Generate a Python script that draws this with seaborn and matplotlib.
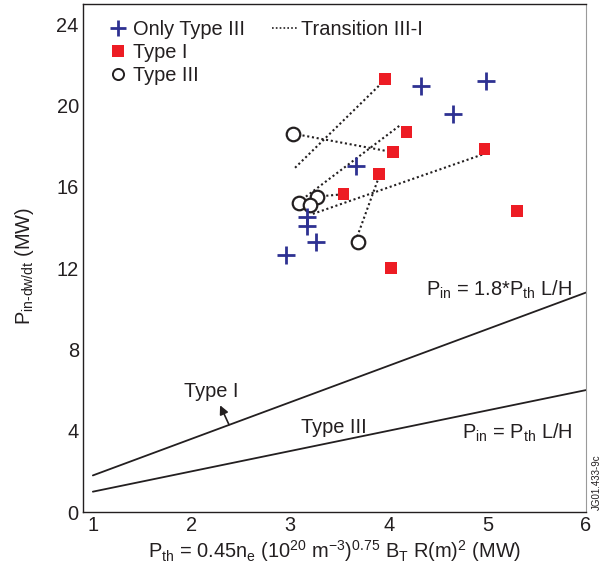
import matplotlib
matplotlib.use("Agg")
import matplotlib.pyplot as plt
from matplotlib.lines import Line2D
import seaborn as sns
import pandas as pd
import numpy as np

# ---- data ----
only3_x = [4.33, 4.99, 4.65, 3.67, 3.17, 3.17, 3.26, 2.96]
only3_y = [20.95, 21.2, 19.59, 17.04, 14.53, 14.09, 13.3, 12.64]

type1_x = [3.96, 4.18, 4.04, 4.97, 3.90, 3.54, 5.30, 4.02]
type1_y = [21.32, 18.7, 17.71, 17.86, 16.63, 15.64, 14.8, 12.0]

type3_x = [3.03, 3.27, 3.09, 3.20, 3.69]
type3_y = [18.62, 15.52, 15.2, 15.11, 13.27]

trans_x0 = [3.05, 3.03, 3.16, 3.23, 3.27, 3.68]
trans_y0 = [16.94, 18.62, 15.52, 14.67, 15.52, 13.55]
trans_x1 = [3.92, 4.04, 4.12, 4.96, 3.54, 3.89]
trans_y1 = [21.07, 17.71, 19.05, 17.61, 15.64, 16.35]

ref_x = [1, 6]
ref_factors = [1.8, 1.0]

# ---- style ----
sns.set_theme(style="white")
plt.rcParams['font.family'] = ['Liberation Sans', 'DejaVu Sans']
plt.rcParams['mathtext.fontset'] = 'custom'
plt.rcParams['mathtext.rm'] = 'Liberation Sans'
plt.rcParams['mathtext.it'] = 'Liberation Sans'
plt.rcParams['mathtext.bf'] = 'Liberation Sans'

FS = 14.4
TXT = '#231F20'
BLUE = '#2E3192'
RED = '#ED1C24'
DOT = (0, (1, 1.3))

fig = plt.figure(figsize=(6.08, 5.68), dpi=100)
ax = fig.add_axes([83/608, 1 - 512/568, (586-83)/608, (512-4)/568])

# reference lines
ref_df = pd.DataFrame({
    'x': ref_x * len(ref_factors),
    'y': [f * x for f in ref_factors for x in ref_x],
    'line': [str(f) for f in ref_factors for _ in ref_x],
})
sns.lineplot(data=ref_df, x='x', y='y', units='line', estimator=None,
             color=TXT, lw=1.3, ax=ax, legend=False)

# transition segments
seg_df = pd.DataFrame({
    'x': [v for pair in zip(trans_x0, trans_x1) for v in pair],
    'y': [v for pair in zip(trans_y0, trans_y1) for v in pair],
    'seg': [i for i in range(len(trans_x0)) for _ in range(2)],
})
sns.lineplot(data=seg_df, x='x', y='y', units='seg', estimator=None, sort=False,
             color=TXT, lw=1.5, linestyle=DOT, ax=ax, legend=False)

# markers
sns.scatterplot(x=type3_x, y=type3_y, marker='o', s=95, facecolor='white',
                edgecolor=TXT, linewidth=1.6, ax=ax, zorder=3)
sns.scatterplot(x=only3_x, y=only3_y, marker='+', s=150, color=BLUE,
                linewidth=2.0, ax=ax, zorder=4)
sns.scatterplot(x=type1_x, y=type1_y, marker='s', s=70, color=RED,
                edgecolor='none', linewidth=0, ax=ax, zorder=4)

ax.set_xlim(0.9, 6)
ax.set_ylim(0, 25)
ax.set_xticks([1, 2, 3, 4, 5, 6])
ax.set_yticks([0, 4, 8, 12, 16, 20, 24])
ax.tick_params(direction='in', length=8, width=1, colors=TXT, labelsize=FS,
               labelcolor=TXT, pad=3)
ax.tick_params(axis='y', length=7)
for s in ['left', 'bottom', 'top']:
    ax.spines[s].set_color(TXT)
    ax.spines[s].set_linewidth(1.0)
ax.spines['right'].set_color('#9a9a9a')
ax.spines['right'].set_linewidth(0.8)

ax.set_xlabel(r'P$_{\mathregular{th}}$ = 0.45n$_{\mathregular{e}}$ (10$^{\mathregular{20}}$ m$^{\mathregular{-3}}$)'
              r'$^{\mathregular{0.75}}$ B$_{\mathregular{T}}$ R(m)$^{\mathregular{2}}$ (MW)',
              fontsize=FS, color=TXT, labelpad=2)
ax.set_ylabel(r'P$_{\mathregular{in\text{-}dw/dt}}$ (MW)', fontsize=FS, color=TXT)
ax.yaxis.set_label_coords(-0.094, 0.485)

# annotations
ax.text(5.86, 10.95, r'P$_{\mathregular{in}}$ = 1.8*P$_{\mathregular{th}}$ L/H', ha='right', va='center',
        fontsize=FS, color=TXT)
ax.text(5.86, 3.9, r'P$_{\mathregular{in}}$ = P$_{\mathregular{th}}$ L/H', ha='right', va='center',
        fontsize=FS, color=TXT)
ax.text(3.44, 4.15, 'Type III', ha='center', va='center', fontsize=FS, color=TXT)
ax.text(2.2, 5.95, 'Type I', ha='center', va='center', fontsize=FS, color=TXT)
ax.annotate('', xy=(2.29, 5.25), xytext=(2.38, 4.3),
            arrowprops=dict(arrowstyle='-|>', color=TXT, lw=1.2, mutation_scale=13,
                            shrinkA=0, shrinkB=0))

# legends
h1 = [Line2D([], [], marker='+', color=BLUE, ls='none', markersize=12, mew=2.0),
      Line2D([], [], marker='s', color=RED, ls='none', markersize=8, mew=0),
      Line2D([], [], marker='o', mfc='white', mec=TXT, ls='none', markersize=8, mew=1.4)]
leg1 = ax.legend(h1, ['Only Type III', 'Type I', 'Type III'], loc='upper left',
                 bbox_to_anchor=(0.05, 0.968), frameon=False, fontsize=FS,
                 handlelength=1.0, handletextpad=0.22, labelspacing=0.2,
                 borderpad=0, borderaxespad=0, labelcolor=TXT)
ax.add_artist(leg1)
h2 = [Line2D([], [], color=TXT, lw=1.2, ls=DOT)]
ax.legend(h2, ['Transition III-I'], loc='upper left', bbox_to_anchor=(0.375, 0.968),
          frameon=False, fontsize=FS, handlelength=1.3, handletextpad=0.15,
          borderpad=0, borderaxespad=0, labelcolor=TXT)

fig.text(597/608, 1 - 482/568, 'JG01.433-9c', rotation=90, ha='center', va='center',
         fontsize=7, color=TXT)

fig.savefig('out.png', dpi=100)
